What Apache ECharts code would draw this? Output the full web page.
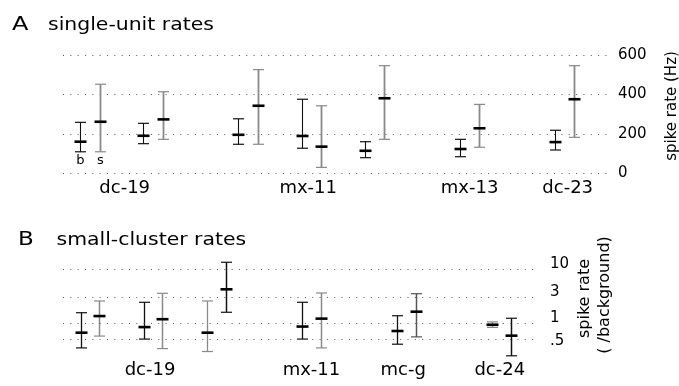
<!DOCTYPE html>
<html>
<head>
<meta charset="utf-8">
<script src="https://cdn.jsdelivr.net/npm/echarts@6/dist/echarts.min.js"></script>
<style>
html,body{margin:0;padding:0;background:#fff}
#chart{width:679px;height:386px}
</style>
</head>
<body>
<div id="chart"></div>
<script>
// panel A : single-unit rates (Hz)
const catA=['dc-19','mx-11','mx-13','dc-23']
const catPosA=[1.1,6.9,12,15.1]
const slotA=[0,2,5,7,9,12,15]
const baseLoA=[110,151,148,128,80,85,119]
const baseMidA=[161,191,196,190,115,124,159]
const baseHiA=[259,254,277,376,161,173,219]
const stimLoA=[110,173,148,31,173,133,183]
const stimMidA=[262,274,343,136,381,229,376]
const stimHiA=[452,414,526,343,546,350,546]
const ticksA=[0,200,400,600]

// panel B : small-cluster rates (/background)
const catB=['dc-19','mx-11','mc-g','dc-24']
const catPosB=[1.9,7,9.9,12.95]
const slotB=[0,2,4,7,10,13]
const baseLoB=[0.35,0.51,0.30,0.51,0.41,0.84]
const baseMidB=[0.67,0.85,0.67,0.87,0.72,0.94]
const baseHiB=[1.57,2.45,2.59,2.45,1.38,1.06]
const stimLoB=[0.58,0.34,1.6,0.35,0.56,0.25]
const stimMidB=[1.36,1.19,4.26,1.22,1.64,0.59]
const stimHiB=[2.59,3.59,13.5,3.64,3.53,1.24]
const ticksB=[0.5,1,3,10]

// whisker shades (style only)
const shadeBaseB=['#111','#111','#8a8a8a','#111','#111','#8a8a8a']
const shadeStimB=['#8a8a8a','#8a8a8a','#111','#8a8a8a','#555','#111']

const FONT='DejaVu Sans'
const dotted={color:'#555',width:1,type:[1,6.33]}

const rows=(slot,lo,mid,hi,off)=>slot.map((s,i)=>[s+off,lo[i],mid[i],hi[i]])

const errBar=(shade,width,tag)=>(params,api)=>{
	const x=api.value(0)
	const lo=api.coord([x,api.value(1)])
	const mid=api.coord([x,api.value(2)])
	const hi=api.coord([x,api.value(3)])
	const c=Array.isArray(shade)?shade[params.dataIndex]:shade
	const cx=Math.round(lo[0])+0.5
	const seg=(x1,y1,x2,y2,col,w)=>({type:'line',shape:{x1,y1,x2,y2},style:{stroke:col,lineWidth:w}})
	const children=[
		seg(cx,lo[1],cx,hi[1],c,width),
		seg(cx-5.5,hi[1],cx+5.5,hi[1],c,1.2),
		seg(cx-5.5,lo[1],cx+5.5,lo[1],c,1.2),
		seg(cx-6,mid[1],cx+6,mid[1],'#000',2.6)
	]
	if(tag&&params.dataIndex===0){
		children.push({type:'text',x:cx,y:lo[1]+2,style:{text:tag,fill:'#000',font:'13px "'+FONT+'"',align:'center',verticalAlign:'top'}})
	}
	return {type:'group',children}
}

const chart=echarts.init(document.getElementById('chart'),null,{renderer:'canvas'})

const xAxisFor=(gridIndex,max,cats,pos)=>({
	gridIndex,type:'value',min:-0.85,max,
	axisLine:{show:false},axisTick:{show:false},splitLine:{show:false},
	axisLabel:{
		customValues:pos,margin:6,fontFamily:FONT,fontSize:18,color:'#000',
		formatter:v=>{const k=pos.indexOf(v);return k<0?'':cats[k]}
	}
})

chart.setOption({
	animation:false,
	grid:[
		{left:63,right:67,top:55,bottom:212.5},
		{left:63,right:140,top:261.4,bottom:30.2}
	],
	xAxis:[
		xAxisFor(0,16.5,catA,catPosA),
		xAxisFor(1,14.19,catB,catPosB)
	],
	yAxis:[
		{
			gridIndex:0,type:'value',position:'right',min:0,max:600,interval:200,
			axisLine:{show:false},axisTick:{show:false},
			splitLine:{show:true,lineStyle:dotted},
			axisLabel:{margin:6,fontFamily:FONT,fontSize:15,color:'#000'}
		},
		{
			gridIndex:1,type:'log',position:'right',min:0.25,max:14,
			axisLine:{show:false},axisTick:{show:false},splitLine:{show:false},
			axisLabel:{
				customValues:ticksB,margin:11,fontFamily:FONT,fontSize:15,color:'#000',
				formatter:v=>v===0.5?'{d|.5}':'{u|'+v+'}',
				rich:{
					u:{fontFamily:FONT,fontSize:15,color:'#000',padding:[0,0,10,0]},
					d:{fontFamily:FONT,fontSize:15,color:'#000',padding:[3,0,0,0]}
				}
			}
		}
	],
	graphic:[
		{type:'text',x:12,y:24.5,scaleX:1.2,style:{text:'A',font:'20px "'+FONT+'"',fill:'#000',verticalAlign:'middle'}},
		{type:'text',x:48,y:26,scaleX:1.2,style:{text:'single-unit rates',font:'17px "'+FONT+'"',fill:'#000',verticalAlign:'middle'}},
		{type:'text',x:18,y:240,scaleX:1.15,style:{text:'B',font:'20px "'+FONT+'"',fill:'#000',verticalAlign:'middle'}},
		{type:'text',x:56.5,y:241,scaleX:1.2,style:{text:'small-cluster rates',font:'17px "'+FONT+'"',fill:'#000',verticalAlign:'middle'}},
		{type:'text',x:672,y:106,rotation:Math.PI/2,style:{text:'spike rate (Hz)',font:'15px "'+FONT+'"',fill:'#000',align:'center',verticalAlign:'middle'}},
		{type:'text',x:585,y:298.5,rotation:Math.PI/2,style:{text:'spike rate',font:'16px "'+FONT+'"',fill:'#000',align:'center',verticalAlign:'middle'}},
		{type:'text',x:605,y:295,rotation:Math.PI/2,style:{text:'( /background)',font:'16px "'+FONT+'"',fill:'#000',align:'center',verticalAlign:'middle'}}
	],
	series:[
		{
			type:'custom',xAxisIndex:0,yAxisIndex:0,encode:{x:0,y:[1,2,3]},
			renderItem:errBar('#111',1.1,'b'),
			data:rows(slotA,baseLoA,baseMidA,baseHiA,-0.31)
		},
		{
			type:'custom',xAxisIndex:0,yAxisIndex:0,encode:{x:0,y:[1,2,3]},
			renderItem:errBar('#8a8a8a',1.8,'s'),
			data:rows(slotA,stimLoA,stimMidA,stimHiA,0.31)
		},
		{
			type:'custom',xAxisIndex:1,yAxisIndex:1,encode:{x:0,y:[1,2,3]},
			renderItem:errBar(shadeBaseB,1.3),
			data:rows(slotB,baseLoB,baseMidB,baseHiB,-0.29)
		},
		{
			type:'custom',xAxisIndex:1,yAxisIndex:1,encode:{x:0,y:[1,2,3]},
			renderItem:errBar(shadeStimB,1.5),
			data:rows(slotB,stimLoB,stimMidB,stimHiB,0.29)
		},
		{
			type:'line',xAxisIndex:1,yAxisIndex:1,data:[],silent:true,
			markLine:{
				silent:true,symbol:['none','none'],
				label:{show:false},
				lineStyle:dotted,
				data:ticksB.map(v=>({yAxis:v}))
			}
		}
	]
})
</script>
</body>
</html>
